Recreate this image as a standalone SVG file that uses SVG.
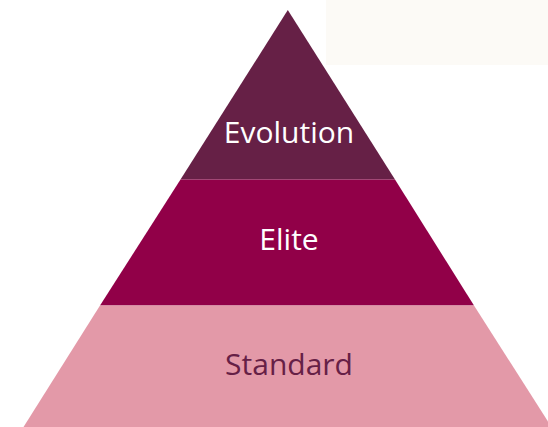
<svg xmlns="http://www.w3.org/2000/svg" width="548" height="427" viewBox="0 0 548 427">
<style>
.lbl{font-family:"Open Sans","Liberation Sans",sans-serif;font-size:30px;text-anchor:middle}
</style>
<rect width="548" height="427" fill="#ffffff"/>
<rect x="326" y="0" width="222" height="65" fill="#FCFAF6"/>
<g id="tier-evolution">
<polygon points="287.8,10 395,179.5 180.5,179.5" fill="#662046"/>
<text class="lbl" x="289" y="143" fill="#ffffff">Evolution</text>
</g>
<g id="tier-elite">
<polygon points="180.5,179.5 395,179.5 474,305.5 100,305.5" fill="#910048"/>
<text class="lbl" x="289" y="250" fill="#ffffff">Elite</text>
</g>
<g id="tier-standard">
<polygon points="100,305.5 474,305.5 551.5,427 23.5,427" fill="#E399A8"/>
<text class="lbl" x="289" y="375" fill="#662046">Standard</text>
</g>
<g id="connectors"/>
</svg>
